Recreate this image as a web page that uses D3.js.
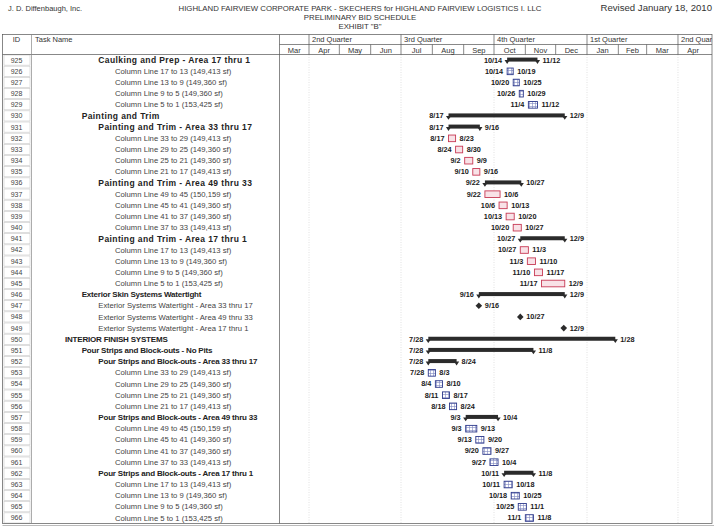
<!DOCTYPE html>
<html><head><meta charset="utf-8">
<script src="https://cdn.jsdelivr.net/npm/d3@7"></script>
<style>body{margin:0;background:#fff}svg{font-family:"Liberation Sans",Arial,sans-serif}</style>
</head><body><svg id="c" width="720" height="527"></svg>
<script>
const ids = [925,926,927,928,929,930,931,932,933,934,935,936,937,938,939,940,941,942,943,944,945,946,947,948,949,950,951,952,953,954,955,956,957,958,959,960,961,962,963,964,965,966];
const names = [
 "Caulking and Prep - Area 17 thru 1",
 "Column Line 17 to 13 (149,413 sf)",
 "Column Line 13 to 9 (149,360 sf)",
 "Column Line 9 to 5 (149,360 sf)",
 "Column Line 5 to 1 (153,425 sf)",
 "Painting and Trim",
 "Painting and Trim - Area 33 thru 17",
 "Column Line 33 to 29 (149,413 sf)",
 "Column Line 29 to 25 (149,360 sf)",
 "Column Line 25 to 21 (149,360 sf)",
 "Column Line 21 to 17 (149,413 sf)",
 "Painting and Trim - Area 49 thru 33",
 "Column Line 49 to 45 (150,159 sf)",
 "Column Line 45 to 41 (149,360 sf)",
 "Column Line 41 to 37 (149,360 sf)",
 "Column Line 37 to 33 (149,413 sf)",
 "Painting and Trim - Area 17 thru 1",
 "Column Line 17 to 13 (149,413 sf)",
 "Column Line 13 to 9 (149,360 sf)",
 "Column Line 9 to 5 (149,360 sf)",
 "Column Line 5 to 1 (153,425 sf)",
 "Exterior Skin Systems Watertight",
 "Exterior Systems Watertight - Area 33 thru 17",
 "Exterior Systems Watertight - Area 49 thru 33",
 "Exterior Systems Watertight - Area 17 thru 1",
 "INTERIOR FINISH SYSTEMS",
 "Pour Strips and Block-outs - No Pits",
 "Pour Strips and Block-outs - Area 33 thru 17",
 "Column Line 33 to 29 (149,413 sf)",
 "Column Line 29 to 25 (149,360 sf)",
 "Column Line 25 to 21 (149,360 sf)",
 "Column Line 21 to 17 (149,413 sf)",
 "Pour Strips and Block-outs - Area 49 thru 33",
 "Column Line 49 to 45 (150,159 sf)",
 "Column Line 45 to 41 (149,360 sf)",
 "Column Line 41 to 37 (149,360 sf)",
 "Column Line 37 to 33 (149,413 sf)",
 "Pour Strips and Block-outs - Area 17 thru 1",
 "Column Line 17 to 13 (149,413 sf)",
 "Column Line 13 to 9 (149,360 sf)",
 "Column Line 9 to 5 (149,360 sf)",
 "Column Line 5 to 1 (153,425 sf)"
];
const levels = [3,4,4,4,4,2,3,4,4,4,4,3,4,4,4,4,3,4,4,4,4,2,3,3,3,1,2,3,4,4,4,4,3,4,4,4,4,3,4,4,4,4];
const kinds = ["s","b","b","b","b","s","s","r","r","r","r","s","r","r","r","r","s","r","r","r","r","s","m","m","m","s","s","s","b","b","b","b","s","b","b","b","b","s","b","b","b","b"];
const starts = ["10/14","10/14","10/20","10/26","11/4","8/17","8/17","8/17","8/24","9/2","9/10","9/22","9/22","10/6","10/13","10/20","10/27","10/27","11/3","11/10","11/17","9/16","9/16","10/27","12/9","7/28","7/28","7/28","7/28","8/4","8/11","8/18","9/3","9/3","9/13","9/20","9/27","10/11","10/11","10/18","10/25","11/1"];
const finishes = ["11/12","10/19","10/25","10/29","11/12","12/9","9/16","8/23","8/30","9/9","9/16","10/27","10/6","10/13","10/20","10/27","12/9","11/3","11/10","11/17","12/9","12/9","9/16","10/27","12/9","1/28","11/8","8/24","8/3","8/10","8/17","8/24","10/4","9/13","9/20","9/27","10/4","11/8","10/18","10/25","11/1","11/8"];
const quarterLabels = ["", "2nd Quarter", "3rd Quarter", "4th Quarter", "1st Quarter", "2nd Quarter"];
const monthLabels = ["Mar","Apr","May","Jun","Jul","Aug","Sep","Oct","Nov","Dec","Jan","Feb","Mar","Apr"];

const parse = s => { const [m,d] = s.split("/").map(Number); return new Date(m < 5 ? 2011 : 2010, m-1, d); };

const svg = d3.select("#c");
const L = 2.5, R = 712, T = 34.5, HM = 44.5, HB = 54.5, B = 523.5;
const idR = 31.5, chartL = 279.5;

const x = d3.scaleTime().domain([new Date(2010,6,1), new Date(2011,0,1)]).range([401, 587]);
const y = d3.scaleBand().domain(ids).range([HB, B]);
const indent = d3.scaleLinear().domain([1,4]).range([65,115]);

// patterns
const defs = svg.append("defs");
const pb = defs.append("pattern").attr("id","pb").attr("patternUnits","userSpaceOnUse").attr("width",3).attr("height",3);
pb.append("rect").attr("width",3).attr("height",3).attr("fill","#fff");
pb.append("path").attr("d","M1.5,0V3M0,1.5H3").attr("stroke","#7d86c0").attr("stroke-width",0.6);
const pr = defs.append("pattern").attr("id","pr").attr("patternUnits","userSpaceOnUse").attr("width",2).attr("height",3);
pr.append("rect").attr("width",2).attr("height",3).attr("fill","#fdf3f5");
pr.append("path").attr("d","M1,0V3").attr("stroke","#e6b0bb").attr("stroke-width",0.5);
defs.append("clipPath").attr("id","cc").append("rect").attr("x",chartL).attr("y",0).attr("width",R-chartL).attr("height",527);

// titles
svg.append("text").attr("x",8).attr("y",10.5).attr("font-size",7.5).attr("fill","#333").text("J. D. Diffenbaugh, Inc.");
svg.append("text").attr("x",712).attr("y",11).attr("text-anchor","end").attr("font-size",9.6).attr("fill","#333").text("Revised January 18, 2010");
const tl = ["HIGHLAND FAIRVIEW CORPORATE PARK - SKECHERS for HIGHLAND FAIRVIEW LOGISTICS I. LLC","PRELIMINARY BID SCHEDULE","EXHIBIT \"B\""];
svg.selectAll(".tl").data(tl).join("text").attr("x",360).attr("y",(d,i)=>11+i*9).attr("text-anchor","middle").attr("font-size",7.8).attr("fill","#333").text(d=>d);

// quarter gridlines (dotted)
const qTicks = [new Date(2010,3,1),new Date(2010,6,1),new Date(2010,9,1),new Date(2011,0,1),new Date(2011,3,1)];
svg.append("g").selectAll("line").data(qTicks).join("line")
  .attr("x1",d=>x(d)).attr("x2",d=>x(d)).attr("y1",HB).attr("y2",B)
  .attr("stroke","#d4d4d4").attr("stroke-width",0.7).attr("stroke-dasharray","1,1.5");

// ID cells
const idg = svg.append("g");
idg.selectAll("rect").data(ids).join("rect").attr("x",L+1.5).attr("y",d=>y(d)+0.5).attr("width",idR-L-3).attr("height",y.bandwidth()-1)
  .attr("fill","none").attr("stroke","#c8c8c8").attr("stroke-width",0.6);
idg.selectAll("text").data(ids).join("text").attr("x",16.5).attr("y",d=>y(d)+y.bandwidth()/2).attr("dy","0.35em")
  .attr("text-anchor","middle").attr("font-size",7).attr("fill","#444").text(d=>d);

// header
const hg = svg.append("g").attr("stroke","#555").attr("stroke-width",0.7);
hg.append("rect").attr("x",L).attr("y",T).attr("width",R-L).attr("height",B-T).attr("fill","none");
hg.append("line").attr("x1",L).attr("x2",R).attr("y1",HB).attr("y2",HB);
hg.append("line").attr("x1",chartL).attr("x2",R).attr("y1",HM).attr("y2",HM);
hg.append("line").attr("x1",idR).attr("x2",idR).attr("y1",T).attr("y2",B).attr("stroke","#888");
hg.append("line").attr("x1",chartL).attr("x2",chartL).attr("y1",T).attr("y2",B);
svg.append("line").attr("x1",L).attr("x2",R+2).attr("y1",B+2).attr("y2",B+2).attr("stroke","#bbb").attr("stroke-width",1);
svg.append("text").attr("x",16.5).attr("y",42).attr("text-anchor","middle").attr("font-size",7.5).attr("fill","#333").text("ID");
svg.append("text").attr("x",35).attr("y",42).attr("font-size",7.5).attr("fill","#333").text("Task Name");

const hc = svg.append("g").attr("clip-path","url(#cc)");
const qStarts = [new Date(2010,0,1),...qTicks, new Date(2011,6,1)];
hc.selectAll(".qs").data(qTicks).join("line").attr("x1",d=>x(d)).attr("x2",d=>x(d)).attr("y1",T).attr("y2",HM).attr("stroke","#555").attr("stroke-width",0.7);
hc.selectAll(".ql").data(quarterLabels).join("text").attr("x",(d,i)=>Math.max(chartL,x(qStarts[i]))+3).attr("y",42).attr("font-size",7.5).attr("fill","#333").text(d=>d);
const months = d3.timeMonth.range(new Date(2010,2,1), new Date(2011,4,1));
hc.selectAll(".ms").data(months.slice(1)).join("line").attr("x1",d=>x(d)).attr("x2",d=>x(d)).attr("y1",HM).attr("y2",HB).attr("stroke","#555").attr("stroke-width",0.7);
hc.selectAll(".ml").data(months).join("text")
  .attr("x",(d,i)=>{const a=Math.max(chartL,x(d)), b=Math.min(R,x(d3.timeMonth.offset(d,1))); return (a+b)/2;})
  .attr("y",52.5).attr("text-anchor","middle").attr("font-size",7.5).attr("fill","#333").text((d,i)=>monthLabels[i]);

// task names (summary rows in the scan print wider in the upper section, narrower below)
const boldSize = id => id < 946 ? 8.5 : 8.0;
const boldSpacing = id => id < 946 ? 0.4 : -0.2;
svg.append("g").selectAll("text").data(ids).join("text")
  .attr("x",(d,i)=>indent(levels[i])).attr("y",d=>y(d)+y.bandwidth()/2).attr("dy","0.35em")
  .attr("font-size",(d,i)=>kinds[i]==="s"?boldSize(d):7.7)
  .attr("letter-spacing",(d,i)=>kinds[i]==="s"?boldSpacing(d):0)
  .attr("font-weight",(d,i)=>kinds[i]==="s"?"bold":"normal")
  .attr("fill",(d,i)=>kinds[i]==="s"?"#222":"#444")
  .text((d,i)=>names[i]);

// bars
const g = svg.append("g");
ids.forEach((id,i)=>{
  const c = y(id)+y.bandwidth()/2;
  const k = kinds[i];
  const s = parse(starts[i]), f = parse(finishes[i]);
  const x0 = x(s), x1 = x(d3.timeDay.offset(f,1));
  const lab = (xx, anchor, t) => g.append("text").attr("x",xx).attr("y",c).attr("dy","0.35em").attr("text-anchor",anchor)
      .attr("font-size",7.3).attr("font-weight","bold").attr("fill","#1a1a1a").text(t);
  if (k==="s") {
    g.append("rect").attr("x",x0).attr("y",c-2.5).attr("width",x1-x0).attr("height",4).attr("fill","#2b2b2b");
    [x0,x1].forEach(xx=>g.append("path").attr("d",`M${xx-2.6},${c}L${xx+2.6},${c}L${xx},${c+3.8}Z`).attr("fill","#2b2b2b"));
    lab(x0-5,"end",starts[i]); lab(x1+5,"start",finishes[i]);
  } else if (k==="m") {
    const xm = x(s);
    g.append("path").attr("d",`M${xm},${c-3.3}L${xm+3.3},${c}L${xm},${c+3.3}L${xm-3.3},${c}Z`).attr("fill","#2b2b2b");
    lab(xm+6,"start",finishes[i]);
  } else {
    const col = k==="b" ? "#2e3a8c" : "#c73a55";
    g.append("rect").attr("x",x0).attr("y",c-3.2).attr("width",x1-x0).attr("height",6.6)
      .attr("fill",k==="b"?"url(#pb)":"url(#pr)").attr("stroke",col).attr("stroke-width",0.9);
    lab(x0-4,"end",starts[i]); lab(x1+4,"start",finishes[i]);
  }
});
</script></body></html>
